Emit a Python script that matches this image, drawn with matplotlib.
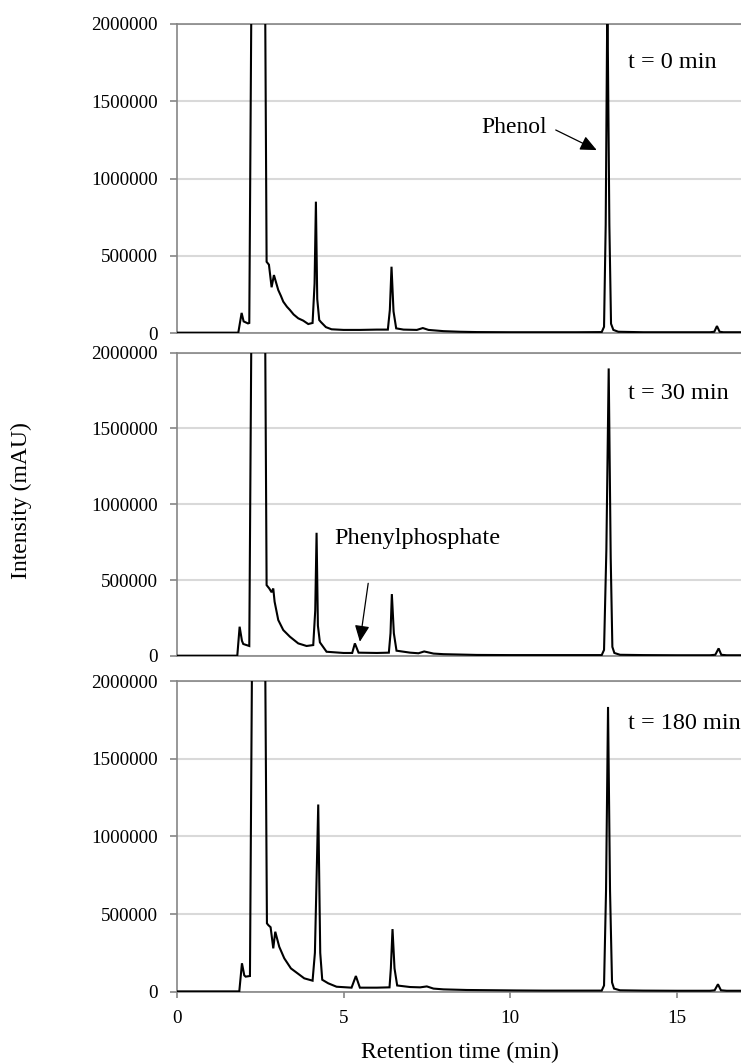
import matplotlib
matplotlib.use("Agg")
import matplotlib.pyplot as plt

plt.rcParams['font.family'] = ['Liberation Serif', 'DejaVu Serif']

# === data (retention time in min, intensity in mAU) ===
time_0min = [0, 1.84, 1.94, 2.00, 2.13, 2.17, 2.24, 2.45, 2.64, 2.69, 2.76, 2.84, 2.91,
             2.97, 3.04, 3.12, 3.19, 3.30, 3.39, 3.50, 3.64, 3.79, 3.94, 4.07, 4.13, 4.17,
             4.21, 4.27, 4.32, 4.47, 4.64, 5.0, 5.5, 6.0, 6.33, 6.39, 6.44, 6.50, 6.58,
             6.80, 7.20, 7.38, 7.55, 8.0, 8.5, 9.0, 10.0, 11.0, 12.0, 12.75, 12.82, 12.87,
             12.92, 12.98, 13.03, 13.10, 13.25, 14.0, 15.0, 16.0, 16.13, 16.21, 16.29,
             16.4, 17.0]
signal_0min = [2000, 2000, 130000, 75000, 62000, 65000, 2.4e6, 6e6, 2.4e6, 461000, 442000,
               296000, 375000, 330000, 278000, 240000, 203000, 170000, 149000, 120000,
               95000, 80000, 58000, 65000, 320000, 850000, 220000, 84000, 71000, 38000,
               24000, 20000, 20000, 22000, 22000, 150000, 429000, 140000, 30000, 22000,
               20000, 32000, 20000, 12000, 8000, 6000, 5000, 5000, 5000, 6000, 40000,
               700000, 2.2e6, 700000, 60000, 20000, 8000, 5000, 5000, 5000, 8000, 45000,
               8000, 5000, 5000]

time_30min = [0, 1.81, 1.88, 1.95, 1.99, 2.17, 2.24, 2.45, 2.64, 2.69, 2.77, 2.84, 2.89,
              2.93, 3.04, 3.19, 3.39, 3.64, 3.89, 4.09, 4.15, 4.19, 4.23, 4.29, 4.49, 5.0,
              5.26, 5.34, 5.45, 6.0, 6.36, 6.41, 6.45, 6.51, 6.59, 7.0, 7.25, 7.42, 7.7,
              8.0, 9.0, 10.0, 11.0, 12.0, 12.75, 12.82, 12.89, 12.96, 13.02, 13.07, 13.13,
              13.3, 14.0, 15.0, 16.0, 16.16, 16.26, 16.34, 16.5, 17.0]
signal_30min = [2000, 2000, 193000, 100000, 79000, 66000, 2.4e6, 6e6, 2.4e6, 467000, 445000,
                420000, 445000, 358000, 237000, 171000, 127000, 83000, 66000, 72000, 300000,
                812000, 200000, 90000, 28000, 20000, 20000, 83000, 22000, 20000, 22000,
                150000, 408000, 150000, 35000, 22000, 18000, 30000, 16000, 12000, 7000,
                6000, 6000, 6000, 6000, 40000, 700000, 1.895e6, 650000, 60000, 20000, 8000,
                6000, 5000, 5000, 8000, 50000, 8000, 5000, 5000]

time_180min = [0, 1.87, 1.95, 2.02, 2.06, 2.19, 2.26, 2.45, 2.64, 2.70, 2.74, 2.81, 2.89,
               2.95, 3.07, 3.22, 3.42, 3.62, 3.82, 4.07, 4.14, 4.24, 4.30, 4.36, 4.54, 4.79,
               5.24, 5.37, 5.49, 6.0, 6.38, 6.42, 6.47, 6.53, 6.61, 7.0, 7.3, 7.5, 7.7, 8.0,
               8.7, 10.2, 11.0, 12.0, 12.75, 12.82, 12.88, 12.94, 13.0, 13.06, 13.12, 13.3,
               14.0, 15.0, 16.0, 16.14, 16.24, 16.33, 16.5, 17.0]
signal_180min = [2000, 2000, 183000, 105000, 97000, 101000, 2.4e6, 6e6, 2.4e6, 440000,
                 429000, 415000, 279000, 386000, 289000, 215000, 150000, 118000, 86000,
                 71000, 250000, 1.205e6, 250000, 77000, 54000, 32000, 26000, 101000, 26000,
                 26000, 28000, 150000, 403000, 150000, 40000, 30000, 28000, 34000, 20000,
                 15000, 11000, 8000, 7000, 7000, 7000, 40000, 650000, 1.833e6, 650000,
                 60000, 20000, 9000, 7000, 6000, 6000, 9000, 48000, 9000, 6000, 6000]

sample_labels = ["t = 0 min", "t = 30 min", "t = 180 min"]
y_ticks = [0, 500000, 1000000, 1500000, 2000000]
y_tick_labels = ["0", "500000", "1000000", "1500000", "2000000"]
x_ticks = [0, 5, 10, 15]
x_tick_labels = ["0", "5", "10", "15"]

traces = [(time_0min, signal_0min), (time_30min, signal_30min), (time_180min, signal_180min)]

# === figure ===
fig = plt.figure(figsize=(7.41, 10.64), dpi=100)
W, H = 741, 1064
left_px, right_px = 177, 177 + 17 * 33.31
panel_px = [(24, 333), (352.5, 656), (681, 991.7)]  # top, bottom in pixels

axis_gray = "#868686"
grid_gray = "#d9d9d9"

axes = []
for i, (top, bottom) in enumerate(panel_px):
    ax = fig.add_axes([left_px / W, 1 - bottom / H, (right_px - left_px) / W, (bottom - top) / H])
    t, s = traces[i]
    ax.plot(t, s, color="black", lw=1.5, zorder=3, solid_joinstyle="miter")
    ax.set_xlim(0, 17)
    ax.set_ylim(0, 2000000)
    ax.set_yticks(y_ticks)
    ax.set_yticklabels(y_tick_labels, fontsize=13.8)
    ax.yaxis.grid(True, color=grid_gray, lw=1.5, zorder=0)
    ax.set_axisbelow(True)
    for side in ["left", "bottom", "top"]:
        ax.spines[side].set_color(axis_gray)
        ax.spines[side].set_linewidth(1.2)
    ax.spines["right"].set_visible(False)
    ax.tick_params(axis="y", direction="out", length=5, width=1.2, color=axis_gray, pad=9)
    if i < 2:
        ax.tick_params(axis="x", bottom=False, labelbottom=False)
    else:
        ax.set_xticks(x_ticks)
        ax.set_xticklabels(x_tick_labels, fontsize=13.8)
        ax.tick_params(axis="x", direction="out", length=4, width=1.2, color=axis_gray, pad=9)
    ax.text(13.53, [1.754e6, 1.73e6, 1.726e6][i], sample_labels[i], fontsize=17.5,
            ha="left", va="center")
    axes.append(ax)

arrow_style = dict(arrowstyle="-|>,head_length=0.55,head_width=0.25", color="black",
                   lw=0.9, mutation_scale=18, shrinkA=0, shrinkB=0)

# Phenol
axes[0].text(11.1, 1.333e6, "Phenol", fontsize=17, ha="right", va="center")
axes[0].annotate("", xy=(12.6, 1.184e6), xytext=(11.37, 1.314e6), arrowprops=arrow_style)

# Phenylphosphate
axes[1].text(7.23, 775000, "Phenylphosphate", fontsize=17.5, ha="center", va="center")
axes[1].annotate("", xy=(5.49, 94000), xytext=(5.74, 479000), arrowprops=arrow_style)

fig.text(21 / W, 1 - 501 / H, "Intensity (mAU)", rotation=90, fontsize=17,
         ha="center", va="center")
fig.text(460 / W, 1 - 1052 / H, "Retention time (min)", fontsize=17,
         ha="center", va="center")

fig.savefig("out.png", dpi=100)
